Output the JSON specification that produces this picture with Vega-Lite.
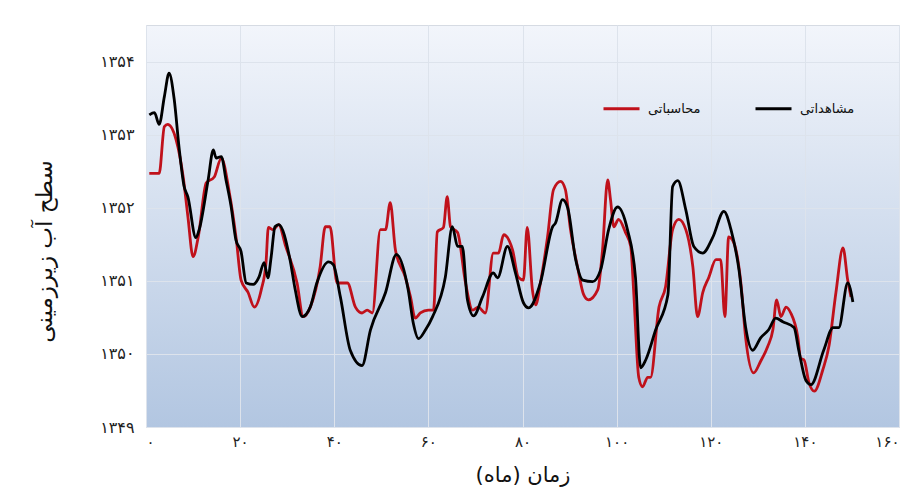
{
  "$schema": "https://vega.github.io/schema/vega-lite/v6.json",
  "width": 753,
  "height": 402,
  "autosize": {"type": "none"},
  "padding": {"left": 146, "top": 25, "right": 16, "bottom": 68},
  "background": "white",
  "config": {
    "font": "DejaVu Sans",
    "view": {
      "fill": {"gradient": "linear", "x1": 0, "y1": 0, "x2": 0, "y2": 1, "stops": [{"offset": 0, "color": "#f2f5fb"}, {"offset": 1, "color": "#b2c6e1"}]},
      "stroke": "#d6dbe3"
    }
  },
  "datasets": {
    "levels": [
      {"series": "مشاهداتی", "month": 0.7, "level": 1353.27},
      {"series": "مشاهداتی", "month": 1.8, "level": 1353.30},
      {"series": "مشاهداتی", "month": 2.8, "level": 1353.14},
      {"series": "مشاهداتی", "month": 3.9, "level": 1353.52},
      {"series": "مشاهداتی", "month": 4.9, "level": 1353.84},
      {"series": "مشاهداتی", "month": 6.0, "level": 1353.48},
      {"series": "مشاهداتی", "month": 7.0, "level": 1352.84},
      {"series": "مشاهداتی", "month": 8.1, "level": 1352.29},
      {"series": "مشاهداتی", "month": 8.9, "level": 1352.15},
      {"series": "مشاهداتی", "month": 10.6, "level": 1351.59},
      {"series": "مشاهداتی", "month": 11.3, "level": 1351.70},
      {"series": "مشاهداتی", "month": 13.2, "level": 1352.38},
      {"series": "مشاهداتی", "month": 14.3, "level": 1352.79},
      {"series": "مشاهداتی", "month": 14.9, "level": 1352.68},
      {"series": "مشاهداتی", "month": 16.0, "level": 1352.70},
      {"series": "مشاهداتی", "month": 17.0, "level": 1352.38},
      {"series": "مشاهداتی", "month": 18.1, "level": 1352.01},
      {"series": "مشاهداتی", "month": 19.1, "level": 1351.56},
      {"series": "مشاهداتی", "month": 20.2, "level": 1351.40},
      {"series": "مشاهداتی", "month": 21.3, "level": 1350.97},
      {"series": "مشاهداتی", "month": 22.8, "level": 1350.95},
      {"series": "مشاهداتی", "month": 24.0, "level": 1351.05},
      {"series": "مشاهداتی", "month": 25.1, "level": 1351.25},
      {"series": "مشاهداتی", "month": 25.9, "level": 1351.04},
      {"series": "مشاهداتی", "month": 26.6, "level": 1351.33},
      {"series": "مشاهداتی", "month": 27.4, "level": 1351.74},
      {"series": "مشاهداتی", "month": 28.2, "level": 1351.77},
      {"series": "مشاهداتی", "month": 30.6, "level": 1351.29},
      {"series": "مشاهداتی", "month": 31.7, "level": 1350.88},
      {"series": "مشاهداتی", "month": 33.2, "level": 1350.51},
      {"series": "مشاهداتی", "month": 34.9, "level": 1350.64},
      {"series": "مشاهداتی", "month": 36.3, "level": 1350.97},
      {"series": "مشاهداتی", "month": 38.8, "level": 1351.26},
      {"series": "مشاهداتی", "month": 39.8, "level": 1351.22},
      {"series": "مشاهداتی", "month": 41.3, "level": 1350.78},
      {"series": "مشاهداتی", "month": 43.4, "level": 1350.05},
      {"series": "مشاهداتی", "month": 45.9, "level": 1349.84},
      {"series": "مشاهداتی", "month": 47.7, "level": 1350.33},
      {"series": "مشاهداتی", "month": 50.9, "level": 1350.84},
      {"series": "مشاهداتی", "month": 53.2, "level": 1351.36},
      {"series": "مشاهداتی", "month": 55.7, "level": 1350.88},
      {"series": "مشاهداتی", "month": 56.8, "level": 1350.42},
      {"series": "مشاهداتی", "month": 57.9, "level": 1350.21},
      {"series": "مشاهداتی", "month": 59.4, "level": 1350.33},
      {"series": "مشاهداتی", "month": 60.9, "level": 1350.51},
      {"series": "مشاهداتی", "month": 63.6, "level": 1351.05},
      {"series": "مشاهداتی", "month": 65.1, "level": 1351.74},
      {"series": "مشاهداتی", "month": 66.2, "level": 1351.47},
      {"series": "مشاهداتی", "month": 67.2, "level": 1351.47},
      {"series": "مشاهداتی", "month": 68.3, "level": 1350.74},
      {"series": "مشاهداتی", "month": 69.6, "level": 1350.52},
      {"series": "مشاهداتی", "month": 71.5, "level": 1350.78},
      {"series": "مشاهداتی", "month": 73.8, "level": 1351.11},
      {"series": "مشاهداتی", "month": 74.7, "level": 1351.04},
      {"series": "مشاهداتی", "month": 76.8, "level": 1351.47},
      {"series": "مشاهداتی", "month": 78.5, "level": 1351.11},
      {"series": "مشاهداتی", "month": 80.2, "level": 1350.70},
      {"series": "مشاهداتی", "month": 81.3, "level": 1350.63},
      {"series": "مشاهداتی", "month": 83.8, "level": 1350.97},
      {"series": "مشاهداتی", "month": 86.4, "level": 1351.74},
      {"series": "مشاهداتی", "month": 87.0, "level": 1351.79},
      {"series": "مشاهداتی", "month": 88.5, "level": 1352.11},
      {"series": "مشاهداتی", "month": 89.6, "level": 1352.00},
      {"series": "مشاهداتی", "month": 91.3, "level": 1351.29},
      {"series": "مشاهداتی", "month": 92.8, "level": 1351.01},
      {"series": "مشاهداتی", "month": 94.9, "level": 1350.99},
      {"series": "مشاهداتی", "month": 96.6, "level": 1351.15},
      {"series": "مشاهداتی", "month": 98.3, "level": 1351.70},
      {"series": "مشاهداتی", "month": 100.2, "level": 1352.01},
      {"series": "مشاهداتی", "month": 102.3, "level": 1351.70},
      {"series": "مشاهداتی", "month": 104.0, "level": 1351.05},
      {"series": "مشاهداتی", "month": 105.1, "level": 1349.81},
      {"series": "مشاهداتی", "month": 106.2, "level": 1349.92},
      {"series": "مشاهداتی", "month": 108.3, "level": 1350.33},
      {"series": "مشاهداتی", "month": 110.9, "level": 1350.81},
      {"series": "مشاهداتی", "month": 111.9, "level": 1352.29},
      {"series": "مشاهداتی", "month": 113.0, "level": 1352.37},
      {"series": "مشاهداتی", "month": 114.7, "level": 1351.97},
      {"series": "مشاهداتی", "month": 116.4, "level": 1351.47},
      {"series": "مشاهداتی", "month": 118.3, "level": 1351.38},
      {"series": "مشاهداتی", "month": 120.4, "level": 1351.59},
      {"series": "مشاهداتی", "month": 122.8, "level": 1351.95},
      {"series": "مشاهداتی", "month": 124.3, "level": 1351.70},
      {"series": "مشاهداتی", "month": 126.0, "level": 1351.15},
      {"series": "مشاهداتی", "month": 127.4, "level": 1350.37},
      {"series": "مشاهداتی", "month": 128.9, "level": 1350.05},
      {"series": "مشاهداتی", "month": 130.6, "level": 1350.22},
      {"series": "مشاهداتی", "month": 132.3, "level": 1350.33},
      {"series": "مشاهداتی", "month": 133.8, "level": 1350.49},
      {"series": "مشاهداتی", "month": 135.3, "level": 1350.44},
      {"series": "مشاهداتی", "month": 137.7, "level": 1350.36},
      {"series": "مشاهداتی", "month": 138.7, "level": 1350.05},
      {"series": "مشاهداتی", "month": 140.2, "level": 1349.64},
      {"series": "مشاهداتی", "month": 141.3, "level": 1349.58},
      {"series": "مشاهداتی", "month": 144.0, "level": 1350.05},
      {"series": "مشاهداتی", "month": 146.0, "level": 1350.36},
      {"series": "مشاهداتی", "month": 147.2, "level": 1350.36},
      {"series": "مشاهداتی", "month": 149.1, "level": 1350.97},
      {"series": "مشاهداتی", "month": 150.2, "level": 1350.71},

      {"series": "محاسباتی", "month": 0.7, "level": 1352.47},
      {"series": "محاسباتی", "month": 2.8, "level": 1352.47},
      {"series": "محاسباتی", "month": 3.9, "level": 1353.11},
      {"series": "محاسباتی", "month": 4.6, "level": 1353.14},
      {"series": "محاسباتی", "month": 6.4, "level": 1352.93},
      {"series": "محاسباتی", "month": 7.9, "level": 1352.42},
      {"series": "محاسباتی", "month": 8.9, "level": 1351.88},
      {"series": "محاسباتی", "month": 10.0, "level": 1351.33},
      {"series": "محاسباتی", "month": 11.1, "level": 1351.60},
      {"series": "محاسباتی", "month": 12.8, "level": 1352.34},
      {"series": "محاسباتی", "month": 14.5, "level": 1352.42},
      {"series": "محاسباتی", "month": 16.0, "level": 1352.68},
      {"series": "محاسباتی", "month": 17.7, "level": 1352.21},
      {"series": "محاسباتی", "month": 19.2, "level": 1351.56},
      {"series": "محاسباتی", "month": 20.2, "level": 1351.01},
      {"series": "محاسباتی", "month": 21.7, "level": 1350.84},
      {"series": "محاسباتی", "month": 23.0, "level": 1350.64},
      {"series": "محاسباتی", "month": 24.5, "level": 1350.88},
      {"series": "محاسباتی", "month": 25.5, "level": 1351.25},
      {"series": "محاسباتی", "month": 26.0, "level": 1351.73},
      {"series": "محاسباتی", "month": 27.0, "level": 1351.70},
      {"series": "محاسباتی", "month": 28.2, "level": 1351.77},
      {"series": "محاسباتی", "month": 29.6, "level": 1351.49},
      {"series": "محاسباتی", "month": 32.1, "level": 1350.97},
      {"series": "محاسباتی", "month": 33.4, "level": 1350.51},
      {"series": "محاسباتی", "month": 34.9, "level": 1350.64},
      {"series": "محاسباتی", "month": 37.0, "level": 1351.19},
      {"series": "محاسباتی", "month": 38.1, "level": 1351.74},
      {"series": "محاسباتی", "month": 39.1, "level": 1351.74},
      {"series": "محاسباتی", "month": 40.6, "level": 1350.97},
      {"series": "محاسباتی", "month": 42.8, "level": 1350.97},
      {"series": "محاسباتی", "month": 44.5, "level": 1350.64},
      {"series": "محاسباتی", "month": 45.9, "level": 1350.56},
      {"series": "محاسباتی", "month": 47.0, "level": 1350.60},
      {"series": "محاسباتی", "month": 48.1, "level": 1350.56},
      {"series": "محاسباتی", "month": 49.8, "level": 1351.70},
      {"series": "محاسباتی", "month": 50.9, "level": 1351.70},
      {"series": "محاسباتی", "month": 51.9, "level": 1352.07},
      {"series": "محاسباتی", "month": 53.0, "level": 1351.42},
      {"series": "محاسباتی", "month": 55.1, "level": 1351.05},
      {"series": "محاسباتی", "month": 56.2, "level": 1350.78},
      {"series": "محاسباتی", "month": 57.2, "level": 1350.49},
      {"series": "محاسباتی", "month": 58.3, "level": 1350.56},
      {"series": "محاسباتی", "month": 60.0, "level": 1350.60},
      {"series": "محاسباتی", "month": 61.1, "level": 1350.60},
      {"series": "محاسباتی", "month": 61.9, "level": 1351.67},
      {"series": "محاسباتی", "month": 63.2, "level": 1351.73},
      {"series": "محاسباتی", "month": 64.0, "level": 1352.15},
      {"series": "محاسباتی", "month": 64.7, "level": 1351.74},
      {"series": "محاسباتی", "month": 66.2, "level": 1351.66},
      {"series": "محاسباتی", "month": 67.9, "level": 1350.97},
      {"series": "محاسباتی", "month": 69.4, "level": 1350.60},
      {"series": "محاسباتی", "month": 70.6, "level": 1350.64},
      {"series": "محاسباتی", "month": 72.1, "level": 1350.56},
      {"series": "محاسباتی", "month": 73.8, "level": 1351.38},
      {"series": "محاسباتی", "month": 74.9, "level": 1351.38},
      {"series": "محاسباتی", "month": 76.0, "level": 1351.63},
      {"series": "محاسباتی", "month": 77.9, "level": 1351.42},
      {"series": "محاسباتی", "month": 79.1, "level": 1351.05},
      {"series": "محاسباتی", "month": 80.2, "level": 1351.01},
      {"series": "محاسباتی", "month": 81.0, "level": 1351.73},
      {"series": "محاسباتی", "month": 82.1, "level": 1350.88},
      {"series": "محاسباتی", "month": 82.8, "level": 1350.67},
      {"series": "محاسباتی", "month": 83.8, "level": 1350.97},
      {"series": "محاسباتی", "month": 85.3, "level": 1351.59},
      {"series": "محاسباتی", "month": 86.6, "level": 1352.25},
      {"series": "محاسباتی", "month": 88.1, "level": 1352.36},
      {"series": "محاسباتی", "month": 89.1, "level": 1352.25},
      {"series": "محاسباتی", "month": 90.2, "level": 1351.70},
      {"series": "محاسباتی", "month": 91.7, "level": 1351.19},
      {"series": "محاسباتی", "month": 93.0, "level": 1350.81},
      {"series": "محاسباتی", "month": 94.0, "level": 1350.74},
      {"series": "محاسباتی", "month": 96.0, "level": 1350.88},
      {"series": "محاسباتی", "month": 97.0, "level": 1351.42},
      {"series": "محاسباتی", "month": 98.1, "level": 1352.38},
      {"series": "محاسباتی", "month": 98.7, "level": 1352.11},
      {"series": "محاسباتی", "month": 99.4, "level": 1351.74},
      {"series": "محاسباتی", "month": 100.4, "level": 1351.84},
      {"series": "محاسباتی", "month": 101.9, "level": 1351.66},
      {"series": "محاسباتی", "month": 103.0, "level": 1351.47},
      {"series": "محاسباتی", "month": 103.6, "level": 1350.88},
      {"series": "محاسباتی", "month": 104.7, "level": 1349.68},
      {"series": "محاسباتی", "month": 105.5, "level": 1349.55},
      {"series": "محاسباتی", "month": 106.6, "level": 1349.68},
      {"series": "محاسباتی", "month": 107.2, "level": 1349.68},
      {"series": "محاسباتی", "month": 109.0, "level": 1350.64},
      {"series": "محاسباتی", "month": 110.4, "level": 1350.92},
      {"series": "محاسباتی", "month": 111.9, "level": 1351.70},
      {"series": "محاسباتی", "month": 113.2, "level": 1351.84},
      {"series": "محاسباتی", "month": 114.7, "level": 1351.70},
      {"series": "محاسباتی", "month": 116.2, "level": 1351.19},
      {"series": "محاسباتی", "month": 117.2, "level": 1350.51},
      {"series": "محاسباتی", "month": 118.3, "level": 1350.84},
      {"series": "محاسباتی", "month": 119.6, "level": 1351.05},
      {"series": "محاسباتی", "month": 121.1, "level": 1351.29},
      {"series": "محاسباتی", "month": 122.1, "level": 1351.29},
      {"series": "محاسباتی", "month": 123.0, "level": 1350.51},
      {"series": "محاسباتی", "month": 123.8, "level": 1351.60},
      {"series": "محاسباتی", "month": 124.9, "level": 1351.52},
      {"series": "محاسباتی", "month": 126.4, "level": 1350.97},
      {"series": "محاسباتی", "month": 127.4, "level": 1350.23},
      {"series": "محاسباتی", "month": 129.1, "level": 1349.74},
      {"series": "محاسباتی", "month": 130.6, "level": 1349.90},
      {"series": "محاسباتی", "month": 132.1, "level": 1350.10},
      {"series": "محاسباتی", "month": 133.2, "level": 1350.33},
      {"series": "محاسباتی", "month": 134.0, "level": 1350.74},
      {"series": "محاسباتی", "month": 134.9, "level": 1350.51},
      {"series": "محاسباتی", "month": 136.0, "level": 1350.64},
      {"series": "محاسباتی", "month": 137.0, "level": 1350.56},
      {"series": "محاسباتی", "month": 138.5, "level": 1350.23},
      {"series": "محاسباتی", "month": 139.1, "level": 1349.94},
      {"series": "محاسباتی", "month": 139.8, "level": 1349.92},
      {"series": "محاسباتی", "month": 140.9, "level": 1349.60},
      {"series": "محاسباتی", "month": 142.0, "level": 1349.49},
      {"series": "محاسباتی", "month": 143.8, "level": 1349.78},
      {"series": "محاسباتی", "month": 145.1, "level": 1350.10},
      {"series": "محاسباتی", "month": 146.6, "level": 1350.84},
      {"series": "محاسباتی", "month": 148.1, "level": 1351.45},
      {"series": "محاسباتی", "month": 149.1, "level": 1351.01},
      {"series": "محاسباتی", "month": 149.8, "level": 1350.78}
    ]
  },
  "data": {"name": "levels"},
  "encoding": {
    "x": {
      "field": "month",
      "type": "quantitative",
      "scale": {"domain": [0, 160], "nice": false, "zero": false},
      "axis": {
        "values": [0, 20, 40, 60, 80, 100, 120, 140, 160],
        "grid": true,
        "gridColor": "#dde3ec",
        "gridWidth": 1,
        "domain": false,
        "ticks": false,
        "labelPadding": 7,
        "labelFontSize": 15,
        "labelColor": "#222222",
        "labelFont": "DejaVu Sans",
        "format": "d",
        "labelExpr": "replace(replace(replace(replace(replace(replace(replace(replace(replace(replace(datum.label,/0/g,'۰'),/1/g,'۱'),/2/g,'۲'),/3/g,'۳'),/4/g,'۴'),/5/g,'۵'),/6/g,'۶'),/7/g,'۷'),/8/g,'۸'),/9/g,'۹')",
        "title": "(ماه) زمان",
        "titleFont": "DejaVu Sans",
        "titleFontSize": 21,
        "titleFontWeight": "normal",
        "titleColor": "#111111",
        "titleBaseline": "middle",
        "titleY": 48
      }
    },
    "y": {
      "field": "level",
      "type": "quantitative",
      "scale": {"domain": [1349, 1354.5], "nice": false, "zero": false},
      "axis": {
        "values": [1349, 1349.5, 1350, 1350.5, 1351, 1351.5, 1352, 1352.5, 1353, 1353.5, 1354],
        "grid": true,
        "gridColor": "#dde3ec",
        "gridWidth": 1,
        "domain": false,
        "ticks": false,
        "labelPadding": 12,
        "labelFontSize": 16,
        "labelColor": "#222222",
        "labelFont": "DejaVu Sans",
        "format": "d",
        "labelExpr": "datum.value % 1 == 0 ? replace(replace(replace(replace(replace(replace(replace(replace(replace(replace(datum.label,/0/g,'۰'),/1/g,'۱'),/2/g,'۲'),/3/g,'۳'),/4/g,'۴'),/5/g,'۵'),/6/g,'۶'),/7/g,'۷'),/8/g,'۸'),/9/g,'۹') : ''",
        "title": "سطح آب زیرزمینی",
        "titleFont": "DejaVu Sans",
        "titleFontSize": 23,
        "titleFontWeight": "normal",
        "titleColor": "#111111",
        "titleBaseline": "middle",
        "titleAlign": "center",
        "titleX": -102,
        "titleY": 226
      }
    },
    "color": {
      "field": "series",
      "type": "nominal",
      "scale": {"domain": ["محاسباتی", "مشاهداتی"], "range": ["#c0111b", "#000000"]},
      "legend": {
        "title": null,
        "orient": "none",
        "direction": "horizontal",
        "legendX": 456,
        "legendY": 64,
        "symbolType": "stroke",
        "symbolSize": 1296,
        "symbolStrokeWidth": 3,
        "labelFontSize": 13,
        "labelFont": "DejaVu Sans",
        "labelColor": "#111111",
        "labelOffset": 7,
        "columnPadding": 48
      }
    }
  },
  "layer": [
    {
      "transform": [{"filter": "datum.series == 'محاسباتی'"}],
      "mark": {"type": "line", "interpolate": "monotone", "strokeWidth": 2.8}
    },
    {
      "transform": [{"filter": "datum.series == 'مشاهداتی'"}],
      "mark": {"type": "line", "interpolate": "monotone", "strokeWidth": 2.8}
    }
  ]
}
